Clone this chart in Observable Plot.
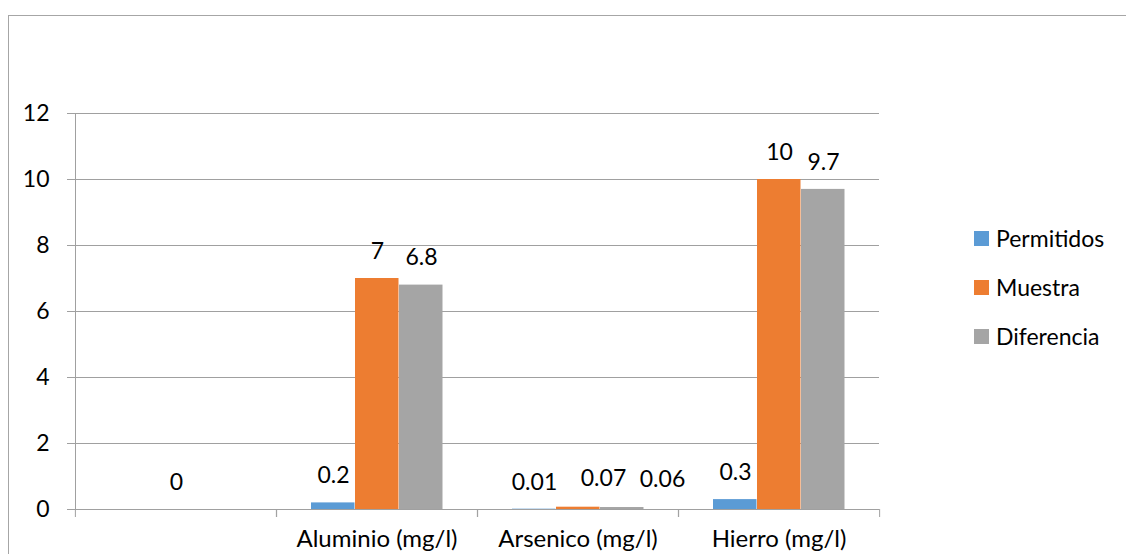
<!DOCTYPE html>
<html>
<head>
<meta charset="utf-8">
<script src="https://cdn.jsdelivr.net/npm/d3@7"></script>
<script src="https://cdn.jsdelivr.net/npm/@observablehq/plot@0.6"></script>
<style>
  html, body { margin: 0; padding: 0; background: #fff; overflow: hidden; }
  #wrap { position: relative; width: 1126px; height: 554px; font-family: Lato, "Open Sans", sans-serif; }
  #border { position: absolute; left: 8px; top: 15px; width: 1140px; height: 560px; border: 1px solid #a6a6a6; }
  #chart { position: absolute; left: 0; top: 0; }
  #legend { position: absolute; left: 974px; top: 0; }
  .item { position: absolute; left: 0; white-space: nowrap; font-size: 23px; color: #000; display: flex; align-items: center; height: 26px; }
  .sw { width: 15px; height: 15px; margin-right: 7px; flex: none; }
</style>
</head>
<body>
<div id="wrap">
  <div id="border"></div>
  <div id="chart"></div>
  <div id="legend"></div>
</div>
<script>
// ---- data ----
const categories = ["", "Aluminio (mg/l)", "Arsenico (mg/l)", "Hierro (mg/l)"];
const series = ["Permitidos", "Muestra", "Diferencia"];
const permitidos = [null, 0.2, 0.01, 0.3];
const muestra = [0, 7, 0.07, 10];
const diferencia = [null, 6.8, 0.06, 9.7];
const colors = ["#5B9BD5", "#ED7D31", "#A5A5A5"];
const yTicks = [0, 2, 4, 6, 8, 10, 12];

const values = [permitidos, muestra, diferencia];
const rows = [];
categories.forEach((c, i) => {
  series.forEach((s, j) => {
    const v = values[j][i];
    if (v != null) rows.push({cat: c, series: s, value: v});
  });
});

const W = 1126, H = 554;
const mL = 74, mR = 247, mT = 113, mB = 45;
const step = (W - mL - mR) / categories.length;
const gridColor = "#a0a0a0";
const fs = 23;

// crowded small labels (Arsenico) are nudged right, as the spreadsheet does
const crowded = d => d.cat === categories[2] && d.series !== series[0];
const labelText = d => String(d.value);

const plot = Plot.plot({
  width: W, height: H,
  marginLeft: mL, marginRight: mR, marginTop: mT, marginBottom: mB,
  style: {fontFamily: "Lato, 'Open Sans', sans-serif", fontSize: fs + "px", color: "#000", background: "transparent"},
  fx: {domain: categories, padding: 0, label: null},
  x: {domain: series, paddingInner: 0, paddingOuter: 0.75, axis: null},
  y: {domain: [0, 12], label: null},
  color: {domain: series, range: colors},
  marks: [
    Plot.gridY(yTicks, {stroke: gridColor, strokeOpacity: 1}),
    Plot.axisY(yTicks, {tickSize: 8, tickPadding: 18, stroke: gridColor, label: null, fontSize: fs}),
    Plot.frame({anchor: "left", facetAnchor: "left", stroke: gridColor}),
    Plot.barY(rows, {fx: "cat", x: "series", y: "value", fill: "series", insetRight: 0.5}),
    Plot.ruleY([0], {stroke: gridColor}),
    Plot.text(rows.filter(d => !crowded(d)), {fx: "cat", x: "series", y: "value", text: labelText, dy: -27, fontSize: fs, fill: "#000"}),
    Plot.text(rows.filter(d => crowded(d) && d.series === series[1]), {fx: "cat", x: "series", y: "value", text: labelText, dy: -29, dx: 25, fontSize: fs, fill: "#000"}),
    Plot.text(rows.filter(d => crowded(d) && d.series === series[2]), {fx: "cat", x: "series", y: "value", text: labelText, dy: -28, dx: 40, fontSize: fs, fill: "#000"}),
    Plot.axisFx({anchor: "bottom", tickSize: 0, tickPadding: 20, label: null, fontSize: 24}),
    Plot.axisFx({anchor: "bottom", tickSize: 8, dx: -step / 2, tickFormat: () => "", label: null, stroke: gridColor}),
    Plot.axisFx({anchor: "bottom", tickSize: 8, dx: step / 2, tickFormat: () => "", label: null, stroke: gridColor})
  ]
});
document.getElementById("chart").appendChild(plot);

// legend
const legend = document.getElementById("legend");
const legendTops = [225, 274, 323];
series.forEach((s, i) => {
  const item = document.createElement("div");
  item.className = "item";
  item.style.top = legendTops[i] + "px";
  const sw = document.createElement("span");
  sw.className = "sw";
  sw.style.background = colors[i];
  const t = document.createElement("span");
  t.textContent = s;
  item.appendChild(sw);
  item.appendChild(t);
  legend.appendChild(item);
});
</script>
</body>
</html>
